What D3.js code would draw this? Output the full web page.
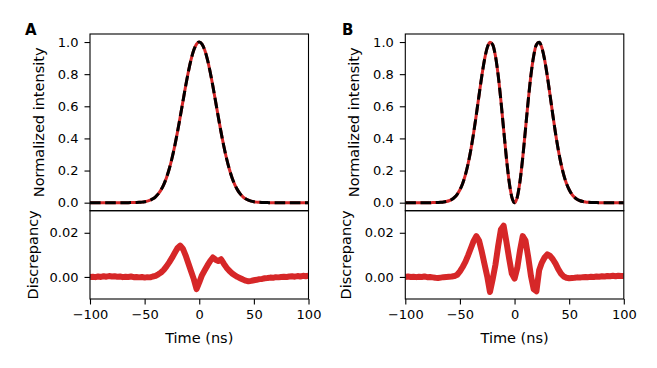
<!DOCTYPE html>
<html lang="en">
<head>
<meta charset="utf-8">
<title>Intensity and discrepancy</title>
<script src="https://d3js.org/d3.v7.min.js"></script>
<style>
  body { margin: 0; background: #fff; }
  text { font-family: "DejaVu Sans", sans-serif; fill: #000; }
  .axis path, .axis line { stroke: #000; stroke-width: 1.1; }
  .axis text { font-size: 13px; }
  .frame { fill: none; stroke: #000; stroke-width: 1.1; }
</style>
</head>
<body>
<div id="chart"></div>
<script>
// sample times (ns)
var timeNs = [-100, -97.5, -95, -92.5, -90, -87.5, -85, -82.5, -80, -77.5, -75, -72.5, -70,
  -67.5, -65, -62.5, -60, -57.5, -55, -52.5, -50, -47.5, -45, -42.5, -40, -37.5, -35, -32.5,
  -30, -27.5, -25, -22.5, -20, -17.5, -15, -12.5, -10, -7.5, -5, -2.5, 0, 2.5, 5, 7.5, 10,
  12.5, 15, 17.5, 20, 22.5, 25, 27.5, 30, 32.5, 35, 37.5, 40, 42.5, 45, 47.5, 50, 52.5, 55,
  57.5, 60, 62.5, 65, 67.5, 70, 72.5, 75, 77.5, 80, 82.5, 85, 87.5, 90, 92.5, 95, 97.5, 100];

// panel A: single pulse
var intensityA = [0, 0, 0, 0, 0, 0, 0, 0, 0, 0, 0, 0, 0,
  0.0001, 0.0002, 0.0003, 0.0006, 0.0011, 0.0019, 0.0034, 0.0057, 0.0095, 0.0152, 0.0239,
  0.0367, 0.0547, 0.0796, 0.1128, 0.1557, 0.2096, 0.2749, 0.3513, 0.4376, 0.5311, 0.6282,
  0.7241, 0.8133, 0.8903, 0.9497, 0.9872, 1.0, 0.9872, 0.9497, 0.8903, 0.8133, 0.7241,
  0.6282, 0.5311, 0.4376, 0.3513, 0.2749, 0.2096, 0.1557, 0.1128, 0.0796, 0.0547, 0.0367,
  0.0239, 0.0152, 0.0095, 0.0057, 0.0034, 0.0019, 0.0011, 0.0006, 0.0003, 0.0002, 0.0001,
  0, 0, 0, 0, 0, 0, 0, 0, 0, 0, 0, 0, 0];

var discrepancyA = [0.0000, 0.0001, -0.0001, 0.0002, 0.0000, 0.0003, 0.0001, 0.0004, 0.0002,
  0.0003, 0.0001, 0.0002, -0.0001, 0.0001, 0.0000, 0.0002, -0.0001, 0.0000, -0.0002, 0.0000,
  -0.0003, -0.0001, -0.0002, 0.0002, 0.0005, 0.0012, 0.0020, 0.0032, 0.0048, 0.0066, 0.0086,
  0.0108, 0.0130, 0.0142, 0.0128, 0.0098, 0.0062, 0.0026, -0.0010, -0.0055, -0.0025, 0.0008,
  0.0030, 0.0052, 0.0072, 0.0088, 0.0078, 0.0072, 0.0080, 0.0060, 0.0042, 0.0028, 0.0016,
  0.0008, 0.0000, -0.0006, -0.0012, -0.0017, -0.0020, -0.0018, -0.0015, -0.0013, -0.0010,
  -0.0009, -0.0006, -0.0005, -0.0003, -0.0004, -0.0001, -0.0002, 0.0000, 0.0001, 0.0000,
  0.0002, 0.0003, 0.0001, 0.0004, 0.0002, 0.0005, 0.0003, 0.0006];

// panel B: double pulse
var intensityB = [0, 0, 0, 0, 0, 0, 0, 0, 0,
  0.0001, 0.0003, 0.0006, 0.0011, 0.0021, 0.0038, 0.0069, 0.0119, 0.0201, 0.0328, 0.0521,
  0.0802, 0.1198, 0.1733, 0.2429, 0.3296, 0.4323, 0.5475, 0.6691, 0.7873, 0.8903, 0.9650,
  0.9989, 0.9831, 0.9136, 0.7939, 0.6354, 0.4568, 0.2812, 0.1333, 0.0346, 0,
  0.0346, 0.1333, 0.2812, 0.4568, 0.6354, 0.7939, 0.9136, 0.9831, 0.9989, 0.9650, 0.8903,
  0.7873, 0.6691, 0.5475, 0.4323, 0.3296, 0.2429, 0.1733, 0.1198, 0.0802, 0.0521, 0.0328,
  0.0201, 0.0119, 0.0069, 0.0038, 0.0021, 0.0011, 0.0006, 0.0003, 0.0001,
  0, 0, 0, 0, 0, 0, 0, 0, 0];

var discrepancyB = [0.0000, 0.0002, 0.0000, 0.0001, -0.0001, 0.0001, 0.0000, 0.0002, -0.0001,
  0.0000, -0.0002, -0.0004, -0.0005, -0.0003, -0.0001, 0.0000, 0.0001, 0.0002, 0.0004, 0.0010,
  0.0025, 0.0045, 0.0068, 0.0098, 0.0130, 0.0162, 0.0185, 0.0165, 0.0115, 0.0058, 0.0002,
  -0.0068, -0.0010, 0.0055, 0.0140, 0.0215, 0.0232, 0.0160, 0.0085, 0.0015, -0.0008, 0.0040,
  0.0120, 0.0185, 0.0165, 0.0090, 0.0005, -0.0055, -0.0065, 0.0030, 0.0065, 0.0088, 0.0102,
  0.0095, 0.0080, 0.0060, 0.0035, 0.0015, 0.0002, -0.0004, -0.0006, -0.0005, -0.0004,
  -0.0002, -0.0003, -0.0001, 0.0000, -0.0001, 0.0001, 0.0000, 0.0002, 0.0001, 0.0003, 0.0002,
  0.0004, 0.0003, 0.0005, 0.0003, 0.0005, 0.0004, 0.0004];

var timeTicks = [-100, -50, 0, 50, 100];
var intensityTicks = [0, 0.2, 0.4, 0.6, 0.8, 1.0];
var discrepancyTicks = [0, 0.02];

var W = 657, H = 368;
var plotW = 218.5;
var topY = 34, midY = 210.7, botY = 299;
var red = "#d62728";

var svg = d3.select("#chart").append("svg")
    .attr("width", W)
    .attr("height", H);

var panels = [
  {key: "A", left: 90, intensity: intensityA, discrepancy: discrepancyA, labelX: 25, niOff: 46, dcOff: 52.5},
  {key: "B", left: 405.3, intensity: intensityB, discrepancy: discrepancyB, labelX: 342, niOff: 46, dcOff: 54.5}
];

panels.forEach(function(p, idx) {
  var x = d3.scaleLinear().domain([-100, 100]).range([0, plotW]);
  var yTop = d3.scaleLinear().domain([-0.05, 1.05]).range([midY - topY, 0]);
  var yBot = d3.scaleLinear().domain([-0.01, 0.03]).range([botY - midY, 0]);

  // top axes: intensity
  var gTop = svg.append("g").attr("transform", "translate(" + p.left + "," + topY + ")");
  gTop.append("clipPath").attr("id", "clipTop" + idx)
    .append("rect").attr("width", plotW).attr("height", midY - topY);

  var line = d3.line()
      .x(function(d, i) { return x(timeNs[i]); })
      .y(function(d) { return yTop(d); })
      .curve(d3.curveMonotoneX);

  var curves = gTop.append("g").attr("clip-path", "url(#clipTop" + idx + ")");
  curves.append("path")
      .datum(p.intensity)
      .attr("fill", "none")
      .attr("stroke", red)
      .attr("stroke-width", 3)
      .attr("d", line);
  curves.append("path")
      .datum(p.intensity)
      .attr("fill", "none")
      .attr("stroke", "#000")
      .attr("stroke-width", 3)
      .attr("stroke-dasharray", "10.6,4.6")
      .attr("d", line);

  gTop.append("g")
      .attr("class", "axis")
      .call(d3.axisLeft(yTop).tickValues(intensityTicks).tickFormat(d3.format(".1f"))
        .tickSize(5.5).tickPadding(6))
      .call(function(g) { g.select(".domain").remove(); });
  gTop.append("rect").attr("class", "frame")
      .attr("width", plotW).attr("height", midY - topY);

  gTop.append("text")
      .attr("transform", "translate(" + (-p.niOff) + "," + ((midY - topY) / 2) + ") rotate(-90)")
      .attr("text-anchor", "middle")
      .style("font-size", "14.5px")
      .text("Normalized intensity");

  // bottom axes: discrepancy
  var gBot = svg.append("g").attr("transform", "translate(" + p.left + "," + midY + ")");
  gBot.append("clipPath").attr("id", "clipBot" + idx)
    .append("rect").attr("width", plotW).attr("height", botY - midY);

  var dline = d3.line()
      .x(function(d, i) { return x(timeNs[i]); })
      .y(function(d) { return yBot(d); });

  gBot.append("g").attr("clip-path", "url(#clipBot" + idx + ")")
    .append("path")
      .datum(p.discrepancy)
      .attr("fill", "none")
      .attr("stroke", red)
      .attr("stroke-width", 6)
      .attr("stroke-linejoin", "round")
      .attr("d", dline);

  gBot.append("g")
      .attr("class", "axis")
      .call(d3.axisLeft(yBot).tickValues(discrepancyTicks).tickFormat(d3.format(".2f"))
        .tickSize(5.5).tickPadding(6))
      .call(function(g) { g.select(".domain").remove(); });
  gBot.append("g")
      .attr("class", "axis")
      .attr("transform", "translate(0," + (botY - midY) + ")")
      .call(d3.axisBottom(x).tickValues(timeTicks).tickSize(5.5).tickPadding(5))
      .call(function(g) { g.select(".domain").remove(); });
  gBot.append("rect").attr("class", "frame")
      .attr("width", plotW).attr("height", botY - midY);

  gBot.append("text")
      .attr("transform", "translate(" + (-p.dcOff) + "," + ((botY - midY) / 2) + ") rotate(-90)")
      .attr("text-anchor", "middle")
      .style("font-size", "14.5px")
      .text("Discrepancy");

  svg.append("text")
      .attr("x", p.left + plotW / 2)
      .attr("y", 343)
      .attr("text-anchor", "middle")
      .style("font-size", "14.5px")
      .text("Time (ns)");

  svg.append("text")
      .attr("x", p.labelX)
      .attr("y", 35)
      .style("font-size", "15px")
      .style("font-weight", "bold")
      .text(p.key);
});
</script>
</body>
</html>
